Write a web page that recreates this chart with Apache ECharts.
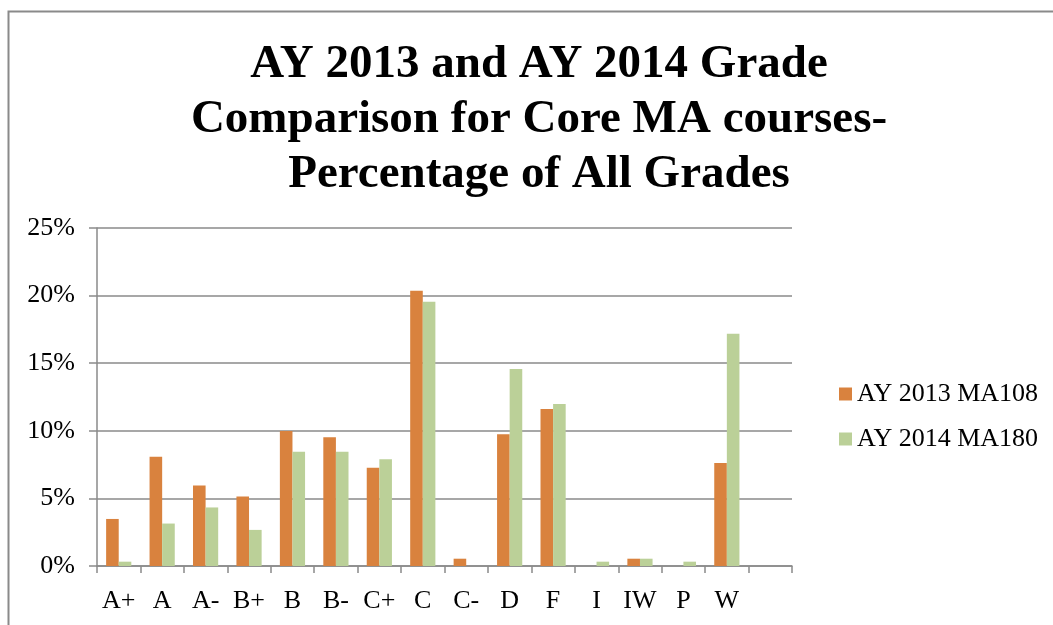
<!DOCTYPE html>
<html>
<head>
<meta charset="utf-8">
<script src="https://cdn.jsdelivr.net/npm/echarts@6/dist/echarts.min.js"></script>
<style>
html,body{margin:0;padding:0;background:#fff;}
#chart{width:1053px;height:625px;}
</style>
</head>
<body>
<div id="chart"></div>
<script>
const titleText = "AY 2013 and AY 2014 Grade\nComparison for Core MA courses-\nPercentage of All Grades";
const categories = ["A+","A","A-","B+","B","B-","C+","C","C-","D","F","I","IW","P","W",""];
const seriesNames = ["AY 2013 MA108","AY 2014 MA180"];
const ay2013 = [3.48, 8.08, 5.96, 5.14, 9.98, 9.52, 7.27, 20.36, 0.54, 9.74, 11.62, 0, 0.54, 0, 7.61, null];
const ay2014 = [0.32, 3.14, 4.33, 2.67, 8.45, 8.45, 7.89, 19.55, 0, 14.58, 11.99, 0.32, 0.54, 0.32, 17.17, null];
const yTicks = [0, 5, 10, 15, 20, 25];

const chart = echarts.init(document.getElementById('chart'), null, {renderer:'canvas'});
const serif = '"Liberation Serif","Times New Roman",serif';
chart.setOption({
  animation:false,
  backgroundColor:'#fff',
  graphic:[{
    type:'polyline', silent:true,
    shape:{points:[[8.5,640],[8.5,11.5],[1060,11.5]]},
    style:{stroke:'#8a8a8a', lineWidth:2, fill:null}
  }],
  title:{
    text:titleText, left:534, textAlign:'center', top:32,
    textStyle:{fontFamily:serif, fontWeight:'bold', fontSize:47, lineHeight:55, color:'#000'}
  },
  legend:{
    orient:'vertical', left:834, top:376,
    itemWidth:13, itemHeight:13, itemGap:19,
    icon:'rect',
    textStyle:{fontFamily:serif, fontSize:26, color:'#000', padding:[0,0,0,0]},
    data:seriesNames
  },
  grid:{left:97, right:261, top:228, bottom:59, containLabel:false},
  xAxis:{
    type:'category', data:categories,
    axisLine:{show:true, lineStyle:{color:'#8a8a8a', width:1.5}},
    axisTick:{show:true, alignWithLabel:false, length:7, lineStyle:{color:'#8a8a8a', width:1.5}},
    axisLabel:{fontFamily:serif, fontSize:26, color:'#000', margin:22, interval:0}
  },
  yAxis:{
    type:'value', min:0, max:25, interval:5,
    axisLine:{show:true, lineStyle:{color:'#8a8a8a', width:1.5}},
    axisTick:{show:true, length:8, lineStyle:{color:'#8a8a8a', width:1.5}},
    splitLine:{show:true, lineStyle:{color:'#8a8a8a', width:1.5}},
    axisLabel:{fontFamily:serif, fontSize:26, color:'#000', margin:22,
      formatter:function(v){return yTicks.indexOf(v)>=0 ? v+'%' : '';}}
  },
  series:[
    {name:seriesNames[0], type:'bar', data:ay2013, barGap:'0%', barCategoryGap:'42%', itemStyle:{color:'#D9823E'}},
    {name:seriesNames[1], type:'bar', data:ay2014, barGap:'0%', barCategoryGap:'42%', itemStyle:{color:'#BBD098'}}
  ]
});
</script>
</body>
</html>
